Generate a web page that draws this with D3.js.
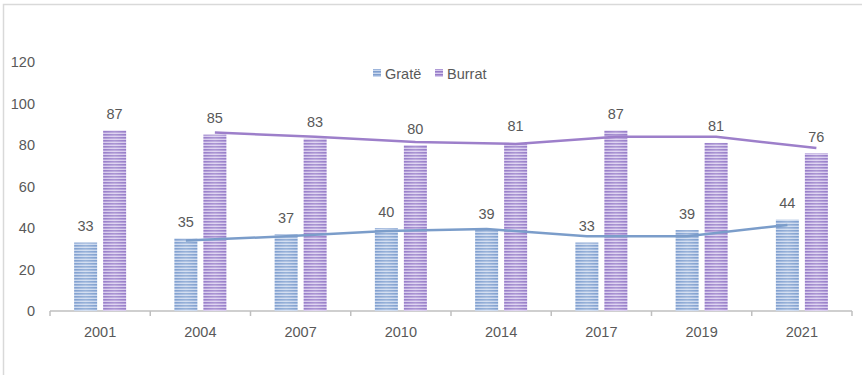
<!DOCTYPE html>
<html>
<head>
<meta charset="utf-8">
<script src="https://cdn.jsdelivr.net/npm/d3@7"></script>
<style>
  html, body { margin: 0; padding: 0; background: #fff; }
  svg { display: block; }
  text { font-family: "Liberation Sans", Arial, sans-serif; fill: #595959; }
</style>
</head>
<body>
<svg id="chart" width="862" height="375"></svg>
<script>
// Survey years
const years = ["2001", "2004", "2007", "2010", "2014", "2017", "2019", "2021"];
// Series values (women / men)
const women = [33, 35, 37, 40, 39, 33, 39, 44];
const men = [87, 85, 83, 80, 81, 87, 81, 76];
// Two-period moving-average trend lines, starting at 2004
const trendYears = ["2004", "2007", "2010", "2014", "2017", "2019", "2021"];
const womenTrend = [34, 36, 38.5, 39.5, 36, 36, 41.5];
const menTrend = [86, 84, 81.5, 80.5, 84, 84, 78.5];
// Axis ticks and legend names
const yTicks = [0, 20, 40, 60, 80, 100, 120];
const seriesNames = ["Gratë", "Burrat"];

const svg = d3.select("#chart");
const W = 862, H = 375;

// outer chart frame
svg.append("rect")
  .attr("x", 3.5).attr("y", 4.5)
  .attr("width", W + 20).attr("height", H + 20)
  .attr("fill", "none").attr("stroke", "#d9d9d9").attr("stroke-width", 1.5);

const plot = { left: 50, right: 852, top: 62, bottom: 311 };

const x = d3.scaleBand().domain(years).range([plot.left, plot.right]).padding(0);
const groupW = 52;
const inner = d3.scaleBand().domain(seriesNames)
  .range([(x.bandwidth() - groupW) / 2, (x.bandwidth() + groupW) / 2])
  .paddingInner(0.207).paddingOuter(0);
const y = d3.scaleLinear().domain([0, 120]).range([plot.bottom, plot.top]);

// striped fills
const defs = svg.append("defs");
function stripes(id, light, dark) {
  const p = defs.append("pattern").attr("id", id)
    .attr("patternUnits", "userSpaceOnUse").attr("width", 4).attr("height", 3)
    .attr("y", plot.bottom);
  p.append("rect").attr("width", 4).attr("height", 3).attr("fill", light);
  p.append("rect").attr("width", 4).attr("height", 1.6).attr("fill", dark);
}
stripes("stripeBlue", "#cad8ee", "#7f9fcf");
stripes("stripePurple", "#d8cbee", "#967cc8");
const sheen = defs.append("linearGradient").attr("id", "sheen")
  .attr("x1", "0").attr("x2", "1").attr("y1", "0").attr("y2", "0");
sheen.append("stop").attr("offset", "0").attr("stop-color", "#fff").attr("stop-opacity", 0);
sheen.append("stop").attr("offset", "0.5").attr("stop-color", "#fff").attr("stop-opacity", 0.2);
sheen.append("stop").attr("offset", "1").attr("stop-color", "#fff").attr("stop-opacity", 0);

const fills = { "Gratë": "url(#stripeBlue)", "Burrat": "url(#stripePurple)" };
const lineColors = { "Gratë": "#7b9dca", "Burrat": "#9d7fca" };

// y-axis labels (no axis line)
const yAxis = d3.axisLeft(y).tickValues(yTicks).tickSize(0).tickPadding(0);
const yg = svg.append("g").attr("transform", `translate(35,0)`).call(yAxis);
yg.select(".domain").remove();
yg.selectAll("text").attr("font-size", "14.5px").attr("fill", "#595959")
  .style("font-family", "Liberation Sans, Arial, sans-serif");

// x-axis line with boundary ticks
const boundaries = years.map(d => x(d)).concat([x(years[years.length - 1]) + x.bandwidth()]);
svg.append("line")
  .attr("x1", plot.left).attr("x2", plot.right)
  .attr("y1", plot.bottom).attr("y2", plot.bottom)
  .attr("stroke", "#bfbfbf").attr("stroke-width", 1.5);
svg.selectAll(".btick").data(boundaries).enter().append("line")
  .attr("x1", d => d).attr("x2", d => d)
  .attr("y1", plot.bottom).attr("y2", plot.bottom + 5)
  .attr("stroke", "#bfbfbf").attr("stroke-width", 1.5);

// year labels
svg.selectAll(".ylab").data(years).enter().append("text")
  .attr("x", d => x(d) + x.bandwidth() / 2)
  .attr("y", 337)
  .attr("text-anchor", "middle").attr("font-size", "14.5px")
  .text(d => d);

// bars
const rows = years.map((yr, i) => ({ year: yr, values: [
  { name: seriesNames[0], v: women[i] },
  { name: seriesNames[1], v: men[i] }
]}));
const groups = svg.selectAll(".grp").data(rows).enter().append("g")
  .attr("transform", d => `translate(${x(d.year)},0)`);
groups.selectAll(".bar").data(d => d.values).enter().append("rect")
  .attr("x", d => inner(d.name)).attr("width", inner.bandwidth())
  .attr("y", d => y(d.v)).attr("height", d => y(0) - y(d.v))
  .attr("fill", d => fills[d.name]);
groups.selectAll(".sheen").data(d => d.values).enter().append("rect")
  .attr("x", d => inner(d.name)).attr("width", inner.bandwidth())
  .attr("y", d => y(d.v)).attr("height", d => y(0) - y(d.v))
  .attr("fill", "url(#sheen)");

// trend lines
const line = d3.line().x(d => d.x).y(d => y(d.v));
[[seriesNames[0], womenTrend], [seriesNames[1], menTrend]].forEach(([name, vals]) => {
  const pts = trendYears.map((yr, i) => ({ x: x(yr) + inner(name) + inner.bandwidth() / 2, v: vals[i] }));
  svg.append("path").datum(pts).attr("d", line)
    .attr("fill", "none").attr("stroke", lineColors[name]).attr("stroke-width", 2.5)
    .attr("stroke-linejoin", "round");
});

// value labels
groups.selectAll(".val").data(d => d.values).enter().append("text")
  .attr("x", d => inner(d.name) + inner.bandwidth() / 2)
  .attr("y", d => y(d.v) - 11.5)
  .attr("text-anchor", "middle").attr("font-size", "14.5px")
  .text(d => d.v);

// legend
const legend = svg.append("g").attr("transform", "translate(373,69)");
const legX = [0, 62];
seriesNames.forEach((name, i) => {
  const g = legend.append("g").attr("transform", `translate(${legX[i]},0)`);
  g.append("rect").attr("width", 8).attr("height", 8).attr("fill", fills[name]);
  g.append("text").attr("x", 12).attr("y", 9.5).attr("font-size", "14.5px").text(name);
});
</script>
</body>
</html>
